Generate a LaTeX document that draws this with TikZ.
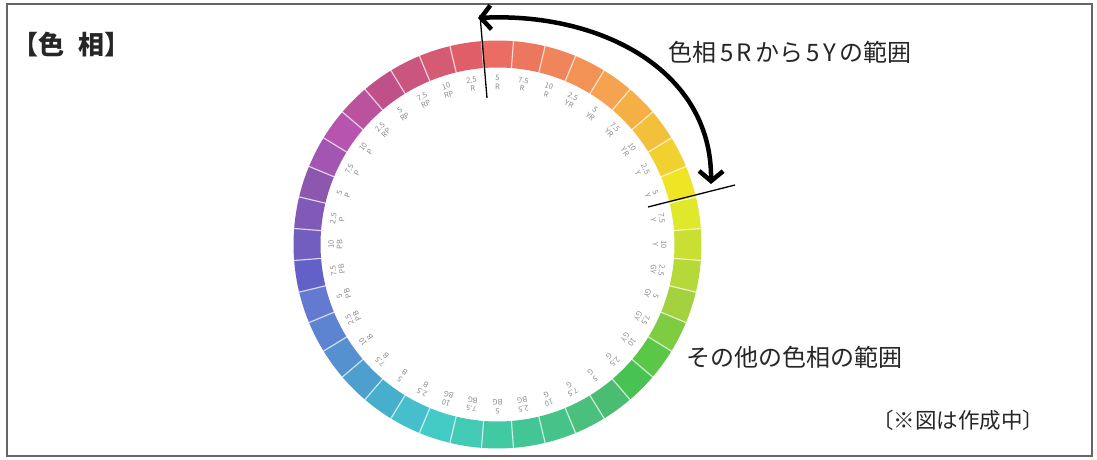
\documentclass[tikz,border=0pt]{standalone}
\usepackage{fontspec}
\setmainfont{Noto Sans CJK JP}
\usetikzlibrary{arrows.meta}
\begin{document}
\begin{tikzpicture}[x=1pt,y=1pt,
  lab/.style={font=\fontsize{7.5}{8.5}\selectfont, text=black!45, align=center, inner sep=0pt},
  jtext/.style={font=\fontsize{24}{26}\selectfont, text=black!85, inner sep=0pt},
  marker/.style={line width=1.3pt, black},
  sep/.style={white, opacity=.7, line width=1.2pt},
  bigarrow/.style={line width=4.5pt, {Straight Barb[length=10pt,width=24pt]}-{Straight Barb[length=10pt,width=24pt]}},
  frame/.style={draw=black!60, line width=2pt}]
\fill[white] (0,0) rectangle (1097,460);
\useasboundingbox (0,0) rectangle (1097,460);
\draw[frame] (7,4) rectangle (1092,456);
% colour ring
\begin{scope}[shift={(497.5,215.5)}]
\foreach \i in {0,...,39}{
  \pgfmathsetmacro\th{90-9*\i}
  \pgfmathtruncatemacro\k{floor(\i/4)}
  \pgfmathtruncatemacro\kk{\k+1}
  \pgfmathsetmacro\ff{mod(\i,4)/4}
  \pgfmathsetmacro\hh{mod({4,30,57,79,141,163,193,228,277,330,364}[\k]*(1-\ff)+{4,30,57,79,141,163,193,228,277,330,364}[\kk]*\ff,360)}
  \pgfmathsetmacro\ss{{.58,.67,.85,.70,.60,.68,.66,.52,.50,.58,.58}[\k]*(1-\ff)+{.58,.67,.85,.70,.60,.68,.66,.52,.50,.58,.58}[\kk]*\ff}
  \pgfmathsetmacro\bb{{.92,.96,.94,.82,.74,.79,.80,.82,.68,.75,.92}[\k]*(1-\ff)+{.92,.96,.94,.82,.74,.79,.80,.82,.68,.75,.92}[\kk]*\ff}
  \definecolor{seg}{Hsb}{\hh,\ss,\bb}
  \fill[seg] (\th+4.5:204) arc[start angle=\th+4.5, end angle=\th-4.5, radius=204]
     -- (\th-4.5:177) arc[start angle=\th-4.5, end angle=\th+4.5, radius=177] -- cycle;
}
\foreach \i in {0,...,39}{
  \pgfmathsetmacro\th{90-9*\i+4.5}
  \draw[sep] (\th:176.5) -- (\th:204.5);
}
\foreach \i in {0,...,39}{
  \pgfmathsetmacro\th{90-9*\i}
  \pgfmathsetmacro\rot{\th-90}
  \pgfmathtruncatemacro\j{\i+1}
  \pgfmathtruncatemacro\fam{mod(floor(\j/4),10)}
  \pgfmathtruncatemacro\num{mod(\j,4)}
  \node[lab, rotate=\rot] (lab\i) at (\th:162)
    {\ifcase\num\relax 2.5\or 5\or 7.5\or 10\fi\\\ifcase\fam\relax R\or YR\or Y\or GY\or G\or BG\or B\or PB\or P\or RP\fi};
}
\end{scope}
% marker lines
\coordinate (r1) at (480,445);
\coordinate (r2) at (487,362);
\coordinate (y1) at (648,253);
\coordinate (y2) at (735,275);
\draw[marker] (r1) -- (r2);
\draw[marker] (y1) -- (y2);
% arrow
\coordinate (a1) at (478,442);
\coordinate (a2) at (711,276);
\draw[bigarrow] (a1) .. controls (600,448) and (712,390) .. (a2);
% texts
\node[jtext, font=\fontsize{26}{28}\selectfont\bfseries] (title) at (71.5,415) {【色\hspace{14pt}相】};
\node[jtext] (t1) at (790,407.5) {色相\kern3.5pt5\kern3pt R\kern3.5pt から\kern3.5pt 5\kern3pt Y\kern3.5pt の範囲};
\node[jtext] (t2) at (794,102.5) {その他の色相の範囲};
\node[jtext, font=\fontsize{21.5}{24}\selectfont] (t3) at (958,40) {〔※図は作成中〕};
\end{tikzpicture}
\end{document}
